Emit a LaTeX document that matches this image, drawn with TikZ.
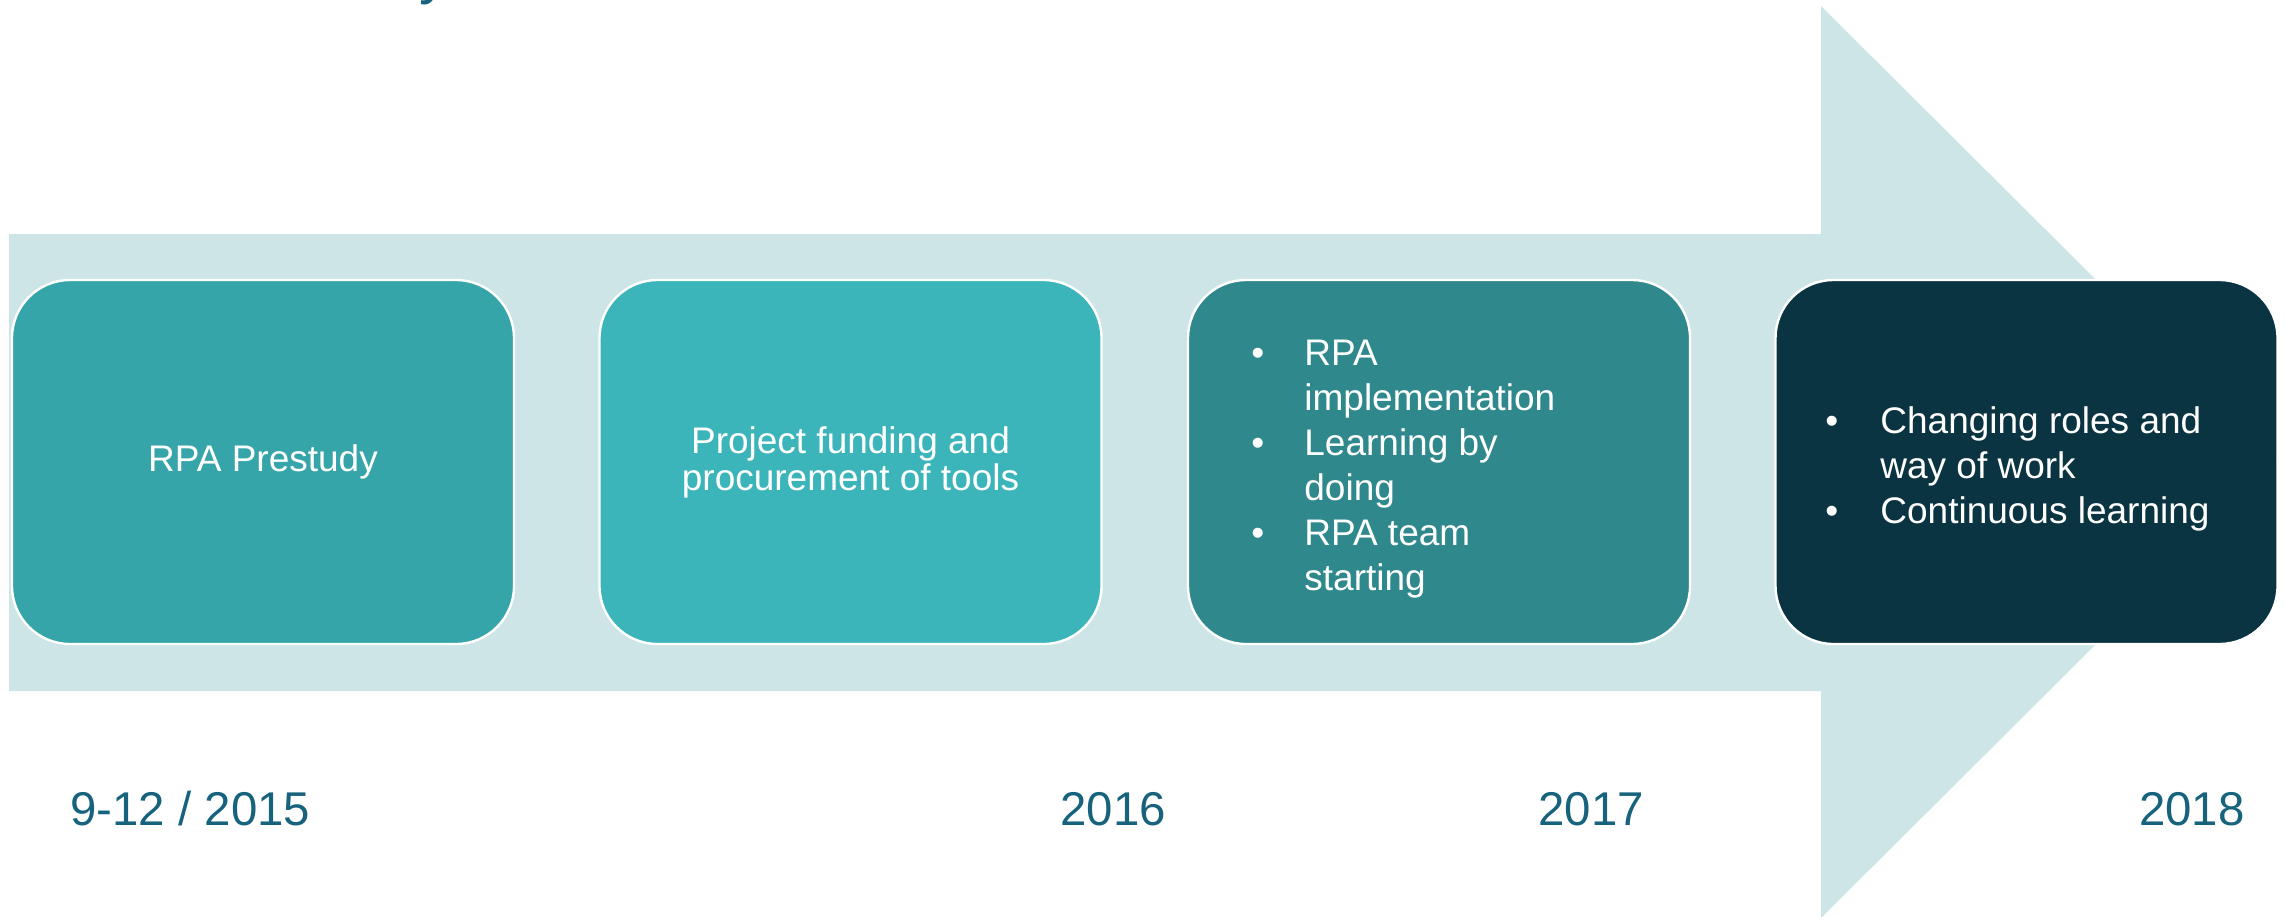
\documentclass[tikz,border=0pt]{standalone}
\usepackage{fontspec}
\setmainfont{Liberation Sans}
\definecolor{shaft}{RGB}{206,229,231}
\definecolor{boxA}{RGB}{53,165,169}
\definecolor{boxB}{RGB}{60,181,186}
\definecolor{boxC}{RGB}{46,136,140}
\definecolor{boxD}{RGB}{10,52,65}
\definecolor{yearcol}{RGB}{23,98,124}
\newcommand{\boxfont}{\fontsize{18.5pt}{18.5pt}\selectfont}
\newcommand{\bulfont}{\fontsize{18.5pt}{22.5pt}\selectfont}
\begin{document}
\begin{tikzpicture}[x=0.5pt,y=-0.5pt,
  stagebox/.style={draw=white, line width=1.2pt, rounded corners=29pt,
    minimum width=251pt, minimum height=182pt, inner sep=0pt,
    text=white, font=\boxfont, align=center},
  bultext/.style={anchor=base west, inner sep=0pt, text=white, font=\bulfont},
  yeartext/.style={inner sep=0pt, text=yearcol, font=\fontsize{23.7pt}{28pt}\selectfont}]
\useasboundingbox (0,0) rectangle (2285,916);
% title fragment
\node[anchor=base west, inner sep=0pt, text=yearcol, font=\fontsize{30pt}{36pt}\selectfont] (title) at (419,-7.5) {y};
% big arrow
\fill[shaft] (9,234) -- (1821,234) -- (1821,6) -- (2279,462) -- (1821,918)
  -- (1821,691) -- (9,691) -- cycle;
% stage boxes
\node[stagebox, fill=boxA] (b1) at (263,462) {RPA Prestudy};
\node[stagebox, fill=boxB] (b2) at (850.5,462) {Project funding and\\procurement of tools};
\node[stagebox, fill=boxC] (b3) at (1439,462) {};
\node[stagebox, fill=boxD] (b4) at (2026.5,462) {};
% bullet texts
\node[bultext] (t3) at (1251,365) {\begin{tabular}[t]{@{}l@{}l@{}}
\makebox[26.5pt][l]{•} & RPA\\
 & implementation\\
• & Learning by\\
 & doing\\
• & RPA team\\
 & starting
\end{tabular}};
\node[bultext] (t4) at (1825,433) {\begin{tabular}[t]{@{}l@{}l@{}}
\makebox[27.5pt][l]{•} & Changing roles and\\
 & way of work\\
• & Continuous learning
\end{tabular}};
% years
\node[yeartext, anchor=base west] (y1) at (70,825) {9-12 / 2015};
\node[yeartext, anchor=base west] (y2) at (1060,825) {2016};
\node[yeartext, anchor=base west] (y3) at (1538,825) {2017};
\node[yeartext, anchor=base east] (y4) at (2245,825) {2018};
\end{tikzpicture}
\end{document}
